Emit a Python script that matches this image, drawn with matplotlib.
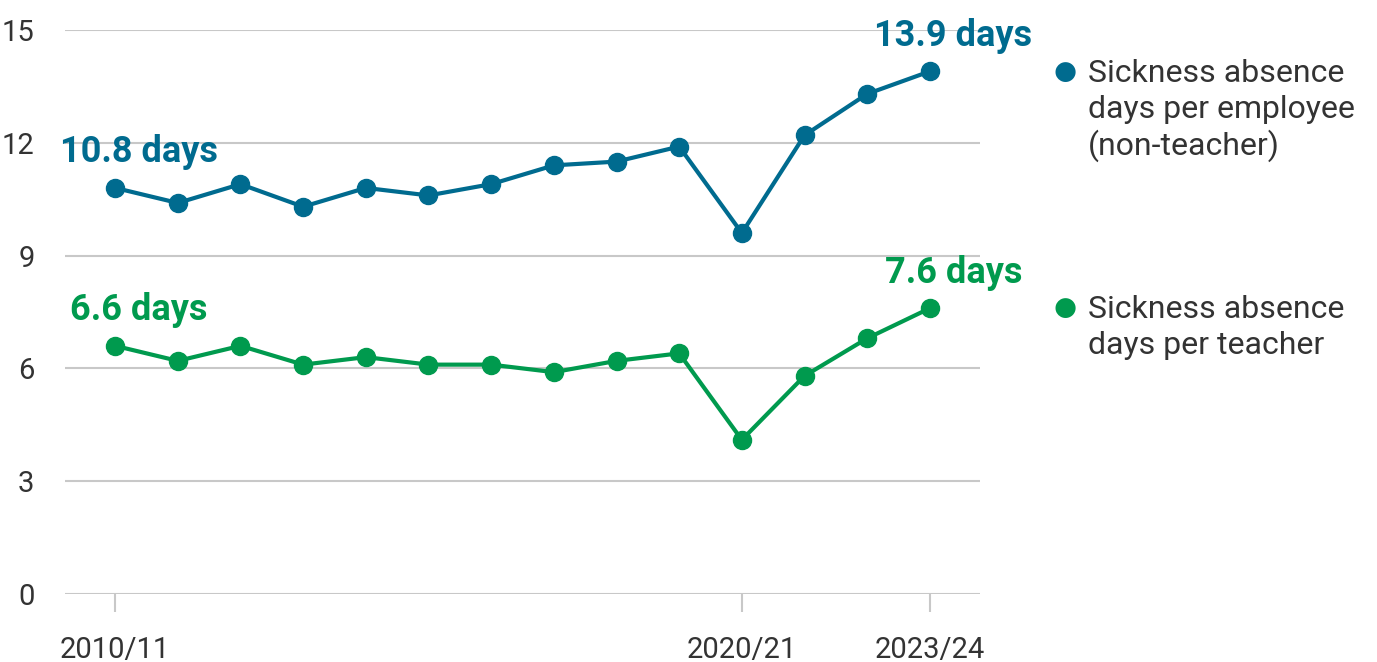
import matplotlib
matplotlib.use("Agg")
import matplotlib.pyplot as plt

plt.rcParams['font.family'] = ['Roboto', 'DejaVu Sans']

# school years 2010/11 .. 2023/24
years = ['2010/11', '2011/12', '2012/13', '2013/14', '2014/15', '2015/16', '2016/17',
         '2017/18', '2018/19', '2019/20', '2020/21', '2021/22', '2022/23', '2023/24']
employee = [10.8, 10.4, 10.9, 10.3, 10.8, 10.6, 10.9, 11.4, 11.5, 11.9, 9.6, 12.2, 13.3, 13.9]
teacher = [6.6, 6.2, 6.6, 6.1, 6.3, 6.1, 6.1, 5.9, 6.2, 6.4, 4.1, 5.8, 6.8, 7.6]
shown_years = ['2010/11', '2020/21', '2023/24']
yticks = [0, 3, 6, 9, 12, 15]
legend_labels = [['Sickness absence', 'days per employee', '(non-teacher)'],
                 ['Sickness absence', 'days per teacher']]

blue = '#006b8f'
green = '#009a4e'
text_col = '#333333'
grid_col = '#c8c8c8'

W, H = 1377, 662
fig = plt.figure(figsize=(W / 100, H / 100), dpi=100)
ax = fig.add_axes([65 / W, 1 - 594 / H, (980 - 65) / W, (594 - 30) / H])

x = list(range(len(years)))
ax.plot(x, employee, '-o', color=blue, lw=3, ms=13, clip_on=False, zorder=3)
ax.plot(x, teacher, '-o', color=green, lw=3, ms=13, clip_on=False, zorder=3)

ax.set_xlim(-0.8, 13.8)
ax.set_ylim(0, 15)
ax.set_yticks(yticks)
ax.set_yticklabels([str(v) for v in yticks])
for v in yticks:
    ax.axhline(v, color=grid_col, lw=1.5, zorder=1)

ax.set_xticks([years.index(y) for y in shown_years])
ax.set_xticklabels(shown_years)
ax.tick_params(axis='x', length=13, width=1.5, color=grid_col, pad=17,
               labelsize=21, labelcolor=text_col)
ax.tick_params(axis='y', length=0, pad=22, labelsize=21, labelcolor=text_col)
for s in ax.spines.values():
    s.set_visible(False)

# first / last value labels
last = len(years) - 1
for series, col in [(employee, blue), (teacher, green)]:
    for i in (0, last):
        ax.annotate(f'{series[i]} days', (i, series[i]), xytext=(17, 18.5),
                    textcoords='offset points', ha='center', va='baseline',
                    fontsize=26, fontweight='bold', color=col)

# legend drawn as text
legend_pos = [72, 308]
for lines, col, ypix in zip(legend_labels, [blue, green], legend_pos):
    fig.text(1065 / W, 1 - ypix / H, '\u25CF', color=col, fontsize=19,
             ha='center', va='center', family=['DejaVu Sans'])
    for k, line in enumerate(lines):
        fig.text(1088 / W, 1 - (ypix + 10 + 36.5 * k) / H, line, color=text_col,
                 fontsize=23, ha='left', va='baseline')

fig.savefig('out.png', dpi=100)
